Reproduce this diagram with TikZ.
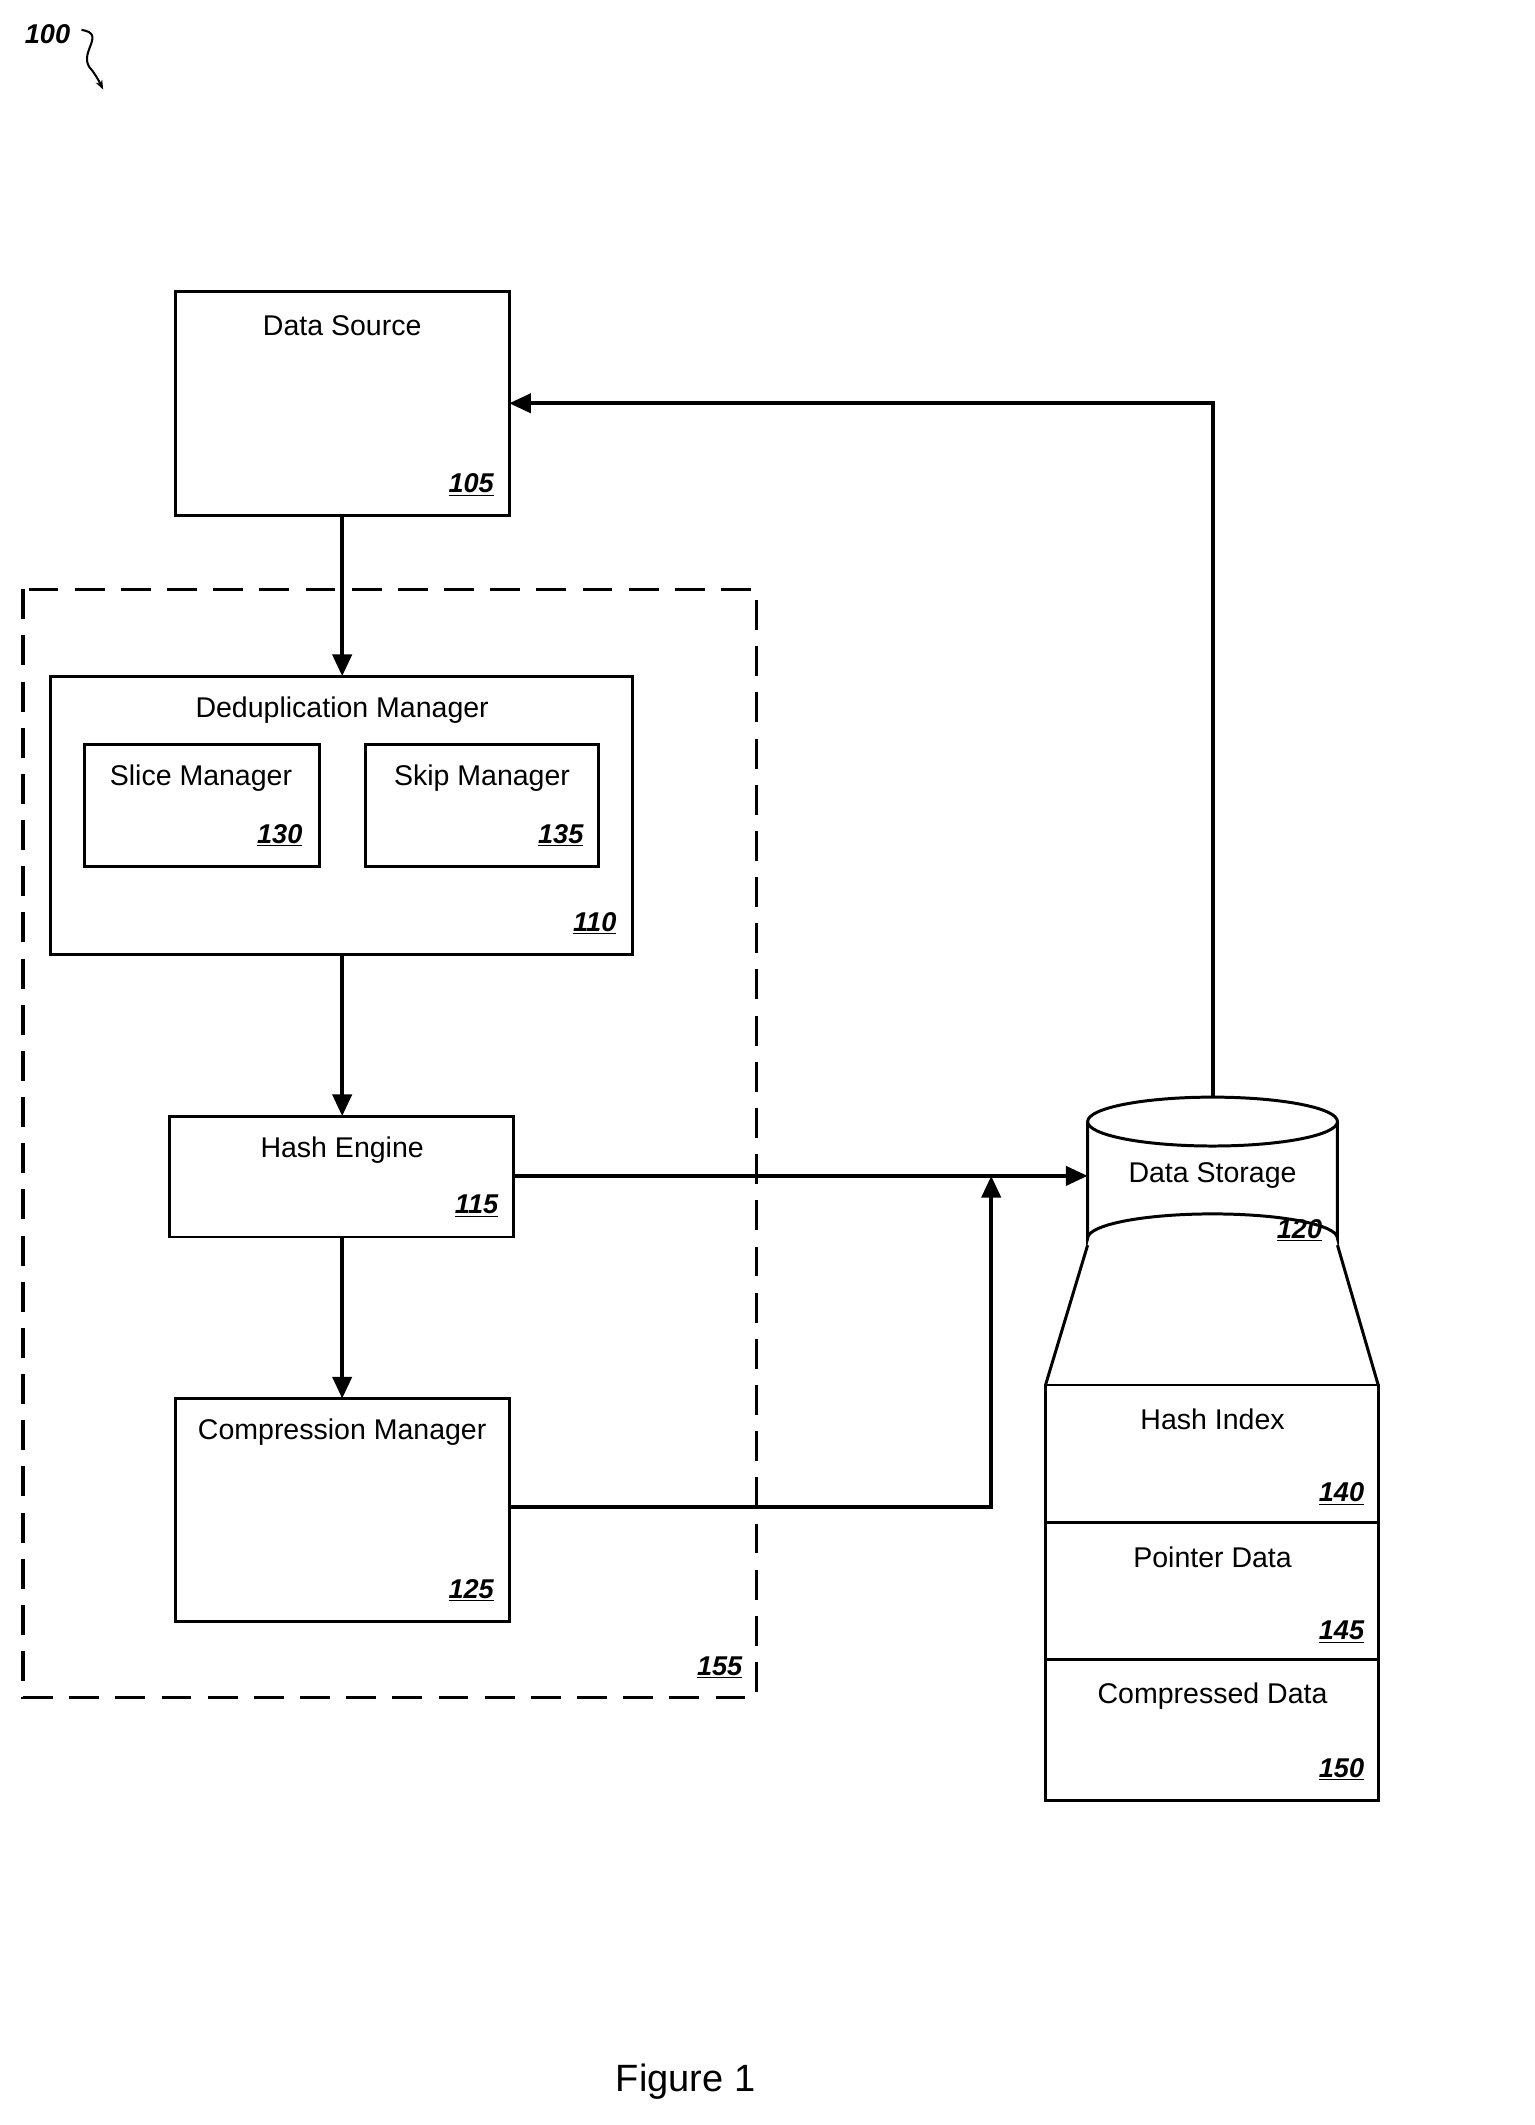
\documentclass[tikz,border=0pt]{standalone}
\usepackage{fontspec}
\setmainfont{Liberation Sans}
\usetikzlibrary{arrows.meta}
\begin{document}
\begin{tikzpicture}[x=1pt,y=-1pt,
  box/.style={draw,line width=2.2pt},
  lbl/.style={font=\fontsize{21}{24}\selectfont,inner sep=0pt},
  num/.style={font=\fontsize{20}{22}\selectfont\bfseries\itshape,inner sep=0pt},
  arr/.style={line width=3pt,-{Triangle[length=16pt,width=14pt]}}]
\useasboundingbox (0,0) rectangle (1130,1565);
\newcommand{\un}[1]{\underline{#1}}
% 100
\node[num] (n100) at (35,25) {100};
\draw[line width=1.5pt,-{Stealth[length=7pt]}] (60,22) .. controls (80,25) and (55,40) .. (68,52) .. controls (72,58) .. (76,66);
% Data source
\draw[box] (129,215) rectangle (375,380);
\node[lbl] (ds) at (252,240) {Data Source};
\node[num] at (347,357) {\un{105}};
\coordinate (dsB) at (252,380);
% dashed
\draw[line width=2.5pt,dash pattern=on 22pt off 12pt] (17,434) rectangle (557,1250);
\node[num] at (530,1228) {\un{155}};
% Dedup
\draw[box] (37,498) rectangle (466,703);
\node[lbl] at (252,523) {Deduplication Manager};
\node[num] at (438,680) {\un{110}};
\coordinate (ddT) at (252,498); \coordinate (ddB) at (252,703);
\draw[box] (62,548) rectangle (235,638);
\node[lbl] at (148,573) {Slice Manager};
\node[num] at (206,615) {\un{130}};
\draw[box] (269,548) rectangle (441,638);
\node[lbl] at (355,573) {Skip Manager};
\node[num] at (413,615) {\un{135}};
% Hash
\draw[box] (125,822) rectangle (378,911);
\node[lbl] at (252,847) {Hash Engine};
\node[num] at (351,888) {\un{115}};
\coordinate (heT) at (252,822); \coordinate (heB) at (252,911); \coordinate (heR) at (378,866);
% Compression
\draw[box] (129,1030) rectangle (375,1194);
\node[lbl] at (252,1055) {Compression Manager};
\node[num] at (347,1171) {\un{125}};
\coordinate (cmT) at (252,1030); \coordinate (cmR) at (375,1110);
% Storage
\draw[box,fill=white] (801,826) -- (801,912) arc[start angle=180,end angle=360,x radius=92,y radius=18] -- (985,826);
\draw[box,fill=white] (893,826) ellipse[x radius=92,y radius=18];
\node[lbl] at (893,866) {Data Storage};
\node[num] at (957,906) {\un{120}};
\coordinate (stT) at (893,808); \coordinate (stL) at (801,866);
\draw[box] (801,917) -- (770,1020) (985,917) -- (1015,1020);
\draw[box] (770,1020) rectangle (1015,1326);
\draw[box] (770,1121) -- (1015,1121) (770,1222) -- (1015,1222);
\node[lbl] at (893,1045) {Hash Index};
\node[num] at (988,1100) {\un{140}};
\node[lbl] at (893,1147) {Pointer Data};
\node[num] at (988,1202) {\un{145}};
\node[lbl] at (893,1249) {Compressed Data};
\node[num] at (988,1303) {\un{150}};
\coordinate (dsR) at (375,297);
% arrows
\draw[arr] (dsB) -- (ddT);
\draw[arr] (ddB) -- (heT);
\draw[arr] (heB) -- (cmT);
\draw[arr] (heR) -- (stL);
\draw[arr] (cmR) -- (730,1110) -- (730,866);
\draw[arr] (stT) -- (893,297) -- (dsR);
\node[font=\fontsize{28}{32}\selectfont] (fig) at (505,1533) {Figure 1};
\end{tikzpicture}
\end{document}
